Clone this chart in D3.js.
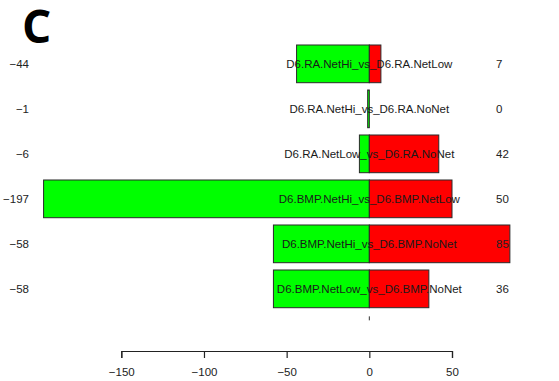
<!DOCTYPE html>
<html>
<head>
<meta charset="utf-8">
<script src="https://cdn.jsdelivr.net/npm/d3@7"></script>
<style>
  body { margin: 0; background: #fff; }
  svg { display: block; }
</style>
</head>
<body>
<div class="chart"></div>
<script>
  // comparisons and their down / up counts
  const comparisons = [
    "D6.RA.NetHi_vs_D6.RA.NetLow",
    "D6.RA.NetHi_vs_D6.RA.NoNet",
    "D6.RA.NetLow_vs_D6.RA.NoNet",
    "D6.BMP.NetHi_vs_D6.BMP.NetLow",
    "D6.BMP.NetHi_vs_D6.BMP.NoNet",
    "D6.BMP.NetLow_vs_D6.BMP.NoNet"
  ];
  const downCounts = [-44, -1, -6, -197, -58, -58];
  const upCounts = [7, 0, 42, 50, 85, 36];
  const xTicks = [-150, -100, -50, 0, 50];

  const width = 559, height = 381;

  const svg = d3.select(".chart")
    .append("svg")
    .attr("width", width)
    .attr("height", height)
    .style("font-family", "'Liberation Sans', Arial, sans-serif");

  const x = d3.scaleLinear()
    .domain([-150, 50])
    .range([121.3, 452]);

  const y = d3.scaleBand()
    .domain(comparisons)
    .range([41.35, 311.35])
    .paddingInner(0.162)
    .paddingOuter(0.081);

  const fmt = d3.format("d");

  // panel letter
  svg.append("text")
    .attr("x", 22)
    .attr("y", 43)
    .style("font-family", "'Open Sans', sans-serif")
    .style("font-weight", "bold")
    .style("font-size", "46px")
    .style("fill", "#000")
    .text("C");

  // green (down) bars
  svg.append("g").selectAll("rect")
    .data(comparisons)
    .enter()
    .append("rect")
    .attr("x", (d, i) => x(downCounts[i]))
    .attr("y", d => y(d))
    .attr("width", (d, i) => x(0) - x(downCounts[i]))
    .attr("height", y.bandwidth())
    .style("fill", "#00ff00")
    .style("stroke", "#2a2a2a")
    .style("stroke-width", 1);

  // red (up) bars
  svg.append("g").selectAll("rect")
    .data(comparisons)
    .enter()
    .append("rect")
    .attr("x", x(0))
    .attr("y", d => y(d))
    .attr("width", (d, i) => x(upCounts[i]) - x(0))
    .attr("height", y.bandwidth())
    .style("fill", "#ff0000")
    .style("stroke", "#2a2a2a")
    .style("stroke-width", 1);

  // comparison names centred on zero
  svg.append("g").selectAll("text")
    .data(comparisons)
    .enter()
    .append("text")
    .attr("x", x(0))
    .attr("y", d => y(d) + y.bandwidth() / 2)
    .attr("dy", "0.35em")
    .style("text-anchor", "middle")
    .style("font-size", "11.5px")
    .style("fill", "#1a1a1a")
    .text(d => d);

  // down counts on the left
  svg.append("g").selectAll("text")
    .data(comparisons)
    .enter()
    .append("text")
    .attr("x", 29)
    .attr("y", d => y(d) + y.bandwidth() / 2)
    .attr("dy", "0.35em")
    .style("text-anchor", "end")
    .style("font-size", "11.5px")
    .style("fill", "#222")
    .text((d, i) => fmt(downCounts[i]));

  // up counts on the right
  svg.append("g").selectAll("text")
    .data(comparisons)
    .enter()
    .append("text")
    .attr("x", 496)
    .attr("y", d => y(d) + y.bandwidth() / 2)
    .attr("dy", "0.35em")
    .style("text-anchor", "start")
    .style("font-size", "11.5px")
    .style("fill", "#222")
    .text((d, i) => fmt(upCounts[i]));

  // small mark under the zero line
  svg.append("line")
    .attr("x1", x(0))
    .attr("x2", x(0))
    .attr("y1", y.range()[1] + 5)
    .attr("y2", y.range()[1] + 9)
    .style("stroke", "#333")
    .style("stroke-width", 1);

  // x axis
  const axis = svg.append("g")
    .attr("transform", "translate(0,351)")
    .call(d3.axisBottom(x).tickValues(xTicks).tickSize(7).tickPadding(10).tickFormat(fmt));

  axis.select(".domain").attr("stroke", "#222").attr("stroke-width", 1.2);
  axis.selectAll(".tick line").attr("stroke", "#222").attr("stroke-width", 1.2);
  axis.selectAll(".tick text")
    .style("font-family", "'Liberation Sans', Arial, sans-serif")
    .style("font-size", "11.5px")
    .style("fill", "#222");
</script>
</body>
</html>
